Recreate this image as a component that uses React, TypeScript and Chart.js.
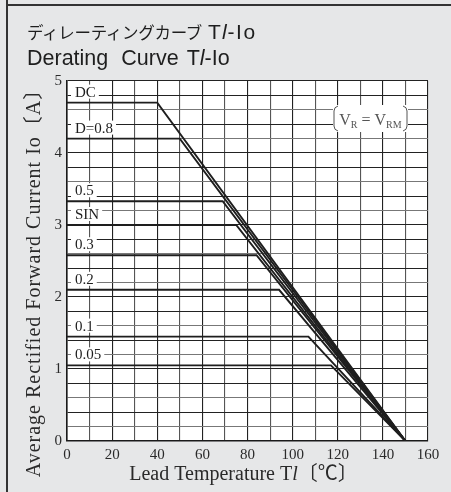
import React, { useEffect, useRef } from 'react';
import { Chart, registerables } from 'chart.js';

Chart.register(...registerables);

// ---- data ----
const seriesNames = ['DC', 'D=0.8', '0.5', 'SIN', '0.3', '0.2', '0.1', '0.05'];
const ratedCurrent = [4.7, 4.2, 3.33, 3.0, 2.58, 2.1, 1.45, 1.05]; // flat part, A
const kneeTemp = [40, 50, 69, 75, 84, 94, 107, 117]; // derating starts, degC
const zeroCurrentTemp = 150; // all curves end at 0 A here

const xTickValues = [0, 10, 20, 30, 40, 50, 60, 70, 80, 90, 100, 110, 120, 130, 140, 150, 160];
const xTickLabels = ['0', '', '20', '', '40', '', '60', '', '80', '', '100', '', '120', '', '140', '', '160'];
const yTickValues = [0, 0.2, 0.4, 0.6, 0.8, 1, 1.2, 1.4, 1.6, 1.8, 2, 2.2, 2.4, 2.6, 2.8, 3, 3.2, 3.4, 3.6, 3.8, 4, 4.2, 4.4, 4.6, 4.8, 5];
const yTickLabels = ['0', '', '', '', '', '1', '', '', '', '', '2', '', '', '', '', '3', '', '', '', '', '4', '', '', '', '', '5'];

const SERIF = "'Liberation Serif', 'Times New Roman', 'Noto Sans CJK JP', serif";
const SANS = "'Liberation Sans', Arial, 'Noto Sans CJK JP', sans-serif";
const BG = '#e6e7e8';
const INK = '#1e1e1e';

type Run = { t: string; f: string };

function drawRuns(ctx: CanvasRenderingContext2D, runs: Run[], cx: number, cy: number) {
  let total = 0;
  const widths = runs.map((r) => {
    ctx.font = r.f;
    const w = ctx.measureText(r.t).width;
    total += w;
    return w;
  });
  let x = cx - total / 2;
  ctx.textAlign = 'left';
  ctx.textBaseline = 'middle';
  runs.forEach((r, i) => {
    ctx.font = r.f;
    ctx.fillText(r.t, x, cy);
    x += widths[i];
  });
}

const chartDecorations = {
  id: 'chartDecorations',
  beforeDraw(chart: any) {
    const { ctx, chartArea } = chart;
    ctx.save();
    ctx.fillStyle = '#ffffff';
    ctx.fillRect(chartArea.left, chartArea.top, chartArea.right - chartArea.left, chartArea.bottom - chartArea.top);
    ctx.restore();
  },
  afterDatasetsDraw(chart: any) {
    const { ctx, chartArea, scales } = chart;
    ctx.save();
    // curve labels
    ctx.font = `15px ${SERIF}`;
    ctx.textBaseline = 'middle';
    ctx.textAlign = 'left';
    seriesNames.forEach((name, i) => {
      const py = scales.y.getPixelForValue(ratedCurrent[i]) - 11;
      const tx = chartArea.left + 8;
      const w = ctx.measureText(name).width;
      ctx.fillStyle = '#ffffff';
      ctx.fillRect(chartArea.left + 4, py - 7, w + 7, 14);
      ctx.fillStyle = INK;
      ctx.fillText(name, tx, py + 1);
    });

    // VR = VRM box
    const bx1 = chartArea.right - 95;
    const bx2 = chartArea.right - 20;
    const by1 = chartArea.top + 24;
    const by2 = by1 + 27;
    ctx.fillStyle = '#ffffff';
    ctx.fillRect(bx1, by1, bx2 - bx1, by2 - by1);
    ctx.strokeStyle = '#555';
    ctx.lineWidth = 1;
    ctx.beginPath();
    ctx.moveTo(bx1 + 5, by1 + 1);
    ctx.quadraticCurveTo(bx1 + 1, by1 + 2, bx1 + 1, by1 + 6);
    ctx.lineTo(bx1 + 1, by2 - 6);
    ctx.quadraticCurveTo(bx1 + 1, by2 - 2, bx1 + 5, by2 - 1);
    ctx.moveTo(bx2 - 5, by1 + 1);
    ctx.quadraticCurveTo(bx2 - 1, by1 + 2, bx2 - 1, by1 + 6);
    ctx.lineTo(bx2 - 1, by2 - 6);
    ctx.quadraticCurveTo(bx2 - 1, by2 - 2, bx2 - 5, by2 - 1);
    ctx.stroke();
    ctx.fillStyle = '#555';
    const big = `16px ${SERIF}`;
    const small = `10px ${SERIF}`;
    const cy = (by1 + by2) / 2;
    const parts: { t: string; f: string; dy: number }[] = [
      { t: 'V', f: big, dy: 0 },
      { t: 'R', f: small, dy: 3 },
      { t: ' = ', f: big, dy: 0 },
      { t: 'V', f: big, dy: 0 },
      { t: 'RM', f: small, dy: 3 },
    ];
    let tw = 0;
    const pw = parts.map((p) => {
      ctx.font = p.f;
      const w = ctx.measureText(p.t).width;
      tw += w;
      return w;
    });
    let x = (bx1 + bx2) / 2 - tw / 2;
    ctx.textBaseline = 'alphabetic';
    parts.forEach((p, i) => {
      ctx.font = p.f;
      ctx.fillText(p.t, x, cy + 6 + p.dy);
      x += pw[i];
    });

    // axis titles
    ctx.fillStyle = '#2a2a2a';
    drawRuns(
      ctx,
      [
        { t: 'Lead Temperature T', f: `20px ${SERIF}` },
        { t: 'l', f: `italic 20px ${SERIF}` },
        { t: '〔℃〕', f: `20px ${SERIF}` },
      ],
      (chartArea.left + chartArea.right) / 2 - 4,
      chartArea.bottom + 34
    );
    ctx.save();
    ctx.translate(chartArea.left - 32, (chartArea.top + chartArea.bottom) / 2 + 17);
    ctx.rotate(-Math.PI / 2);
    (ctx as any).letterSpacing = '1px';
    drawRuns(ctx, [{ t: 'Average Rectified Forward Current Io〔A〕', f: `20px ${SERIF}` }], 0, 0);
    (ctx as any).letterSpacing = '0px';
    ctx.restore();
    ctx.restore();
  },
};

export default function App() {
  const ref = useRef<HTMLCanvasElement>(null);
  useEffect(() => {
    document.body.style.margin = '0';
    const datasets = seriesNames.map((name, i) => ({
      label: name,
      data: [
        { x: 0, y: ratedCurrent[i] },
        { x: kneeTemp[i], y: ratedCurrent[i] },
        { x: zeroCurrentTemp, y: 0 },
      ],
      borderColor: INK,
      borderWidth: 1.9,
      pointRadius: 0,
      tension: 0,
      fill: false,
    }));
    const chart = new Chart(ref.current as HTMLCanvasElement, {
      type: 'line',
      data: { datasets },
      plugins: [chartDecorations],
      options: {
        animation: false,
        responsive: false,
        maintainAspectRatio: false,
        layout: { padding: { top: 81, right: 23, left: 0, bottom: 0 } },
        plugins: { legend: { display: false }, tooltip: { enabled: false }, title: { display: false } },
        scales: {
          x: {
            type: 'linear',
            min: 0,
            max: 160,
            afterBuildTicks: (axis: any) => {
              axis.ticks = xTickValues.map((v) => ({ value: v }));
            },
            afterFit: (scale: any) => {
              scale.height = 51;
            },
            ticks: {
              autoSkip: false,
              maxRotation: 0,
              padding: 5,
              color: '#2a2a2a',
              font: { family: SERIF, size: 15 },
              callback: (v: any) => {
                const idx = xTickValues.indexOf(Number(v));
                return idx >= 0 ? xTickLabels[idx] : '';
              },
            },
            grid: {
              drawTicks: false,
              lineWidth: 1.1,
              color: (c: any) => (c.tick && c.tick.value % 20 === 0 ? '#222' : '#555'),
            },
            border: { display: true, color: '#1a1a1a', width: 1.6 },
          },
          y: {
            type: 'linear',
            min: 0,
            max: 5,
            afterBuildTicks: (axis: any) => {
              axis.ticks = yTickValues.map((v) => ({ value: v }));
            },
            afterFit: (scale: any) => {
              scale.width = 67;
            },
            ticks: {
              autoSkip: false,
              padding: 5,
              color: '#2a2a2a',
              font: { family: SERIF, size: 15 },
              callback: (v: any) => {
                const idx = yTickValues.findIndex((t) => Math.abs(t - Number(v)) < 1e-6);
                return idx >= 0 ? yTickLabels[idx] : '';
              },
            },
            grid: {
              drawTicks: false,
              lineWidth: 1.1,
              color: (c: any) => {
                if (!c.tick) return '#333';
                const frac = Math.round((c.tick.value % 1) * 10);
                return frac === 0 || frac === 4 || frac === 8 ? '#222' : '#777';
              },
            },
            border: { display: true, color: '#1a1a1a', width: 1.6 },
          },
        },
      } as any,
    });
    return () => chart.destroy();
  }, []);

  return (
    <div style={{ position: 'fixed', left: 0, top: 0, width: 451, height: 492, background: BG, overflow: 'hidden' }}>
      <canvas ref={ref} width={451} height={492} style={{ position: 'absolute', left: 0, top: 0, width: 451, height: 492 }} />
      <div style={{ position: 'absolute', left: 6, top: 0, width: 1.6, height: 492, background: '#333' }} />
      <div style={{ position: 'absolute', left: 6, top: 3.5, right: 0, height: 2, background: '#333' }} />
      <div
        style={{
          position: 'absolute',
          left: 27,
          top: 21,
          fontFamily: SANS,
          fontSize: 21,
          lineHeight: 1,
          color: '#1e1e1e',
          whiteSpace: 'pre',
        }}
      >
        <span style={{ fontFamily: "'Noto Sans CJK JP', sans-serif", fontSize: 16.5, letterSpacing: -0.3 }}>ディレーティングカーブ</span>
        <span style={{ marginLeft: 6, letterSpacing: 1 }}>T</span>
        <span style={{ fontStyle: 'italic', letterSpacing: 1 }}>l</span>
        <span style={{ letterSpacing: 1.5 }}>-Io</span>
      </div>
      <div
        style={{
          position: 'absolute',
          left: 27,
          top: 48,
          fontFamily: SANS,
          fontSize: 21.5,
          lineHeight: 1,
          color: '#1e1e1e',
          whiteSpace: 'pre',
        }}
      >
        <span>Derating</span>
        <span style={{ marginLeft: 13 }}>Curve</span>
        <span style={{ marginLeft: 8 }}>T</span>
        <span style={{ fontStyle: 'italic' }}>l</span>
        <span>-Io</span>
      </div>
    </div>
  );
}
